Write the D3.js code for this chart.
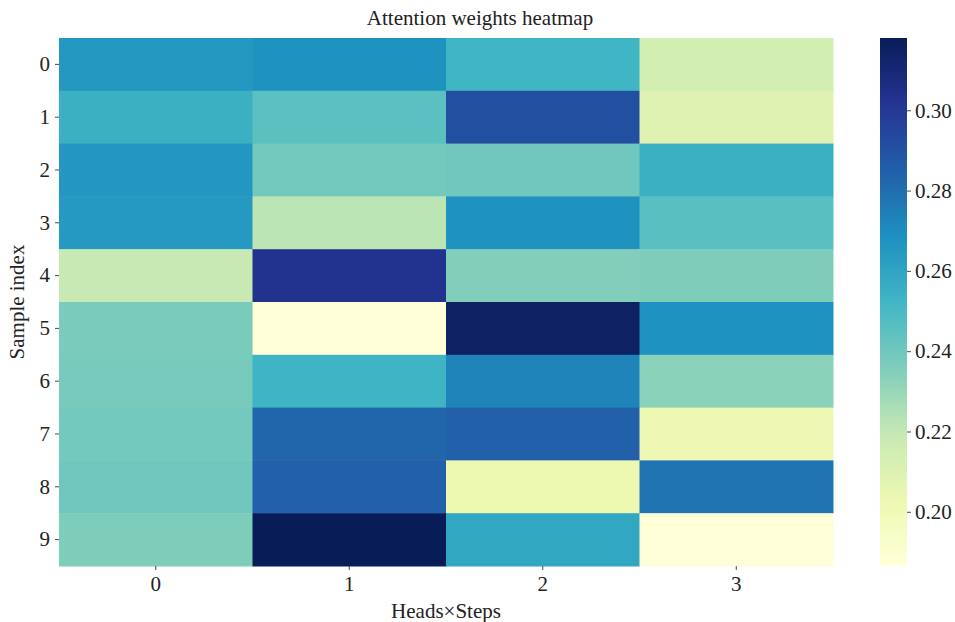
<!DOCTYPE html>
<html>
<head>
<meta charset="utf-8">
<script src="https://cdn.jsdelivr.net/npm/d3@7"></script>
<style>
  html, body { margin: 0; padding: 0; background: #fff; }
  svg { display: block; font-family: "Liberation Serif", "DejaVu Serif", serif; }
</style>
</head>
<body>
<svg id="chart" width="955" height="622"></svg>
<script>
// Attention weights: one row per sample, one column per head×step
const sampleLabels = ["0", "1", "2", "3", "4", "5", "6", "7", "8", "9"];
const headLabels = ["0", "1", "2", "3"];
const row0 = [0.2657, 0.2680, 0.2525, 0.2140];
const row1 = [0.2550, 0.2450, 0.2910, 0.2090];
const row2 = [0.2660, 0.2390, 0.2400, 0.2550];
const row3 = [0.2650, 0.2220, 0.2680, 0.2460];
const row4 = [0.2190, 0.3030, 0.2350, 0.2360];
const row5 = [0.2370, 0.1865, 0.3150, 0.2680];
const row6 = [0.2380, 0.2530, 0.2730, 0.2330];
const row7 = [0.2390, 0.2830, 0.2840, 0.2020];
const row8 = [0.2400, 0.2840, 0.2030, 0.2780];
const row9 = [0.2360, 0.3180, 0.2590, 0.1870];
const weights = [row0, row1, row2, row3, row4, row5, row6, row7, row8, row9];
const colorbarTicks = [0.20, 0.22, 0.24, 0.26, 0.28, 0.30];

const svg = d3.select("#chart");
const plotLeft = 59, plotRight = 833, plotTop = 38, plotBottom = 566;
const fontFamily = '"Liberation Serif", "DejaVu Serif", serif';
const fontSize = "21px";

const cells = weights.flatMap((row, i) => row.map((v, j) => ({ i, j, v })));
const vmin = d3.min(cells, d => d.v);
const vmax = d3.max(cells, d => d.v);

// YlGnBu colour ramp, nine anchor colours spread evenly over the value range
const ramp = ["#ffffd9", "#edf8b1", "#c7e9b4", "#7fcdbb", "#41b6c4", "#1d91c0", "#225ea8", "#253494", "#081d58"];
const color = d3.scaleLinear()
  .domain(ramp.map((_, k) => vmin + (vmax - vmin) * k / (ramp.length - 1)))
  .range(ramp)
  .interpolate(d3.interpolateRgb)
  .clamp(true);

const x = d3.scaleBand().domain(headLabels).range([plotLeft, plotRight]);
const y = d3.scaleBand().domain(sampleLabels).range([plotTop, plotBottom]);

svg.append("g").selectAll("rect")
  .data(cells)
  .join("rect")
  .attr("x", d => x(headLabels[d.j]))
  .attr("y", d => y(sampleLabels[d.i]))
  .attr("width", x.bandwidth() + 0.5)
  .attr("height", y.bandwidth() + 0.5)
  .attr("fill", d => color(d.v));

function styleAxis(g) {
  g.attr("font-family", fontFamily).attr("font-size", fontSize);
  g.select(".domain").remove();
  g.selectAll(".tick line").attr("stroke", "#333").attr("stroke-width", 0.9);
  g.selectAll(".tick text").attr("fill", "#222");
}

svg.append("g")
  .attr("transform", `translate(${plotLeft},0)`)
  .call(d3.axisLeft(y).tickSize(4).tickPadding(5))
  .call(styleAxis);

svg.append("g")
  .attr("transform", `translate(0,${plotBottom})`)
  .call(d3.axisBottom(x).tickSize(4).tickPadding(6))
  .call(styleAxis);

// Title and axis labels
svg.append("text")
  .attr("x", 480).attr("y", 25)
  .attr("text-anchor", "middle").attr("fill", "#222")
  .style("font-size", fontSize)
  .text("Attention weights heatmap");

svg.append("text")
  .attr("x", (plotLeft + plotRight) / 2).attr("y", 618)
  .attr("text-anchor", "middle").attr("fill", "#222")
  .style("font-size", fontSize)
  .text("Heads×Steps");

svg.append("text")
  .attr("transform", `translate(24,${(plotTop + plotBottom) / 2}) rotate(-90)`)
  .attr("text-anchor", "middle").attr("fill", "#222")
  .style("font-size", fontSize)
  .text("Sample index");

// Colour bar
const cbX = 880, cbW = 27;
const cbScale = d3.scaleLinear().domain([vmin, vmax]).range([plotBottom, plotTop]);
const defs = svg.append("defs");
const grad = defs.append("linearGradient")
  .attr("id", "cbgrad").attr("x1", 0).attr("y1", 1).attr("x2", 0).attr("y2", 0);
d3.range(0, 1.0001, 0.02).forEach(t => {
  grad.append("stop")
    .attr("offset", t)
    .attr("stop-color", color(vmin + (vmax - vmin) * t));
});
svg.append("rect")
  .attr("x", cbX).attr("y", plotTop)
  .attr("width", cbW).attr("height", plotBottom - plotTop)
  .attr("fill", "url(#cbgrad)");

svg.append("g")
  .attr("transform", `translate(${cbX + cbW},0)`)
  .call(d3.axisRight(cbScale).tickValues(colorbarTicks).tickFormat(d3.format(".2f")).tickSize(4).tickPadding(4))
  .call(styleAxis);
</script>
</body>
</html>
